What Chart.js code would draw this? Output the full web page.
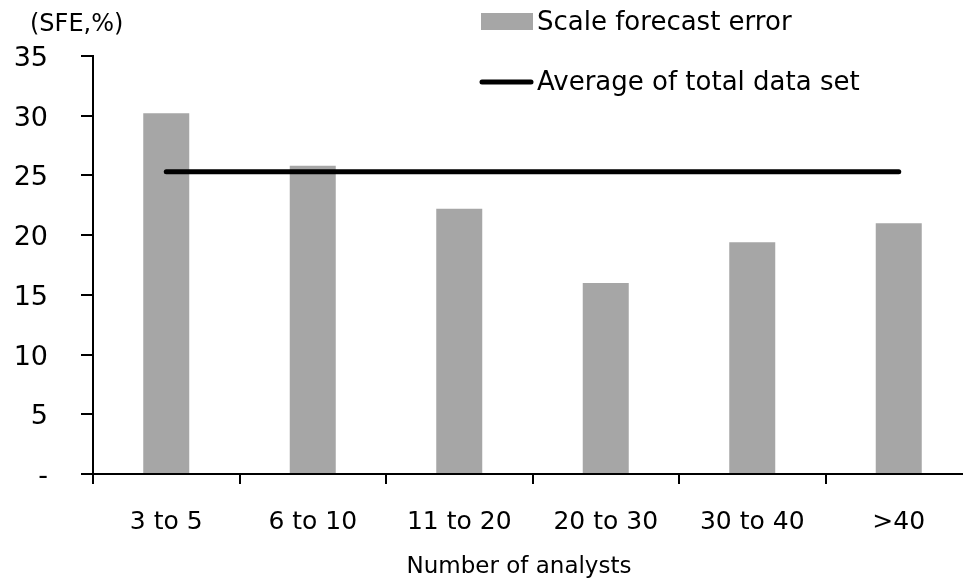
<!DOCTYPE html>
<html>
<head>
<meta charset="utf-8">
<script src="https://cdn.jsdelivr.net/npm/chart.js@4"></script>
<style>
  html, body { margin: 0; padding: 0; background: #fff; overflow: hidden; }
  #wrap { width: 963px; height: 582px; overflow: hidden; position: relative; }
  canvas { display: block; }
</style>
</head>
<body>
<div id="wrap"><canvas id="chart" width="975" height="582"></canvas></div>
<script>
// Scale forecast error by analyst coverage
const categories = ['3 to 5', '6 to 10', '11 to 20', '20 to 30', '30 to 40', '>40'];
const sfeValues = [30.2, 25.8, 22.2, 16.0, 19.4, 21.0];
const totalAverage = [25.3, 25.3, 25.3, 25.3, 25.3, 25.3];
const yTickValues = [0, 5, 10, 15, 20, 25, 30, 35];
const yTickLabels = ['-', '5', '10', '15', '20', '25', '30', '35'];

const unitLabel = '(SFE,%)';
const xTitle = 'Number of analysts';
const barLabel = 'Scale forecast error';
const lineLabel = 'Average of total data set';

const FONT = '"DejaVu Sans", sans-serif';
const BAR_COLOR = '#A6A6A6';

// Unit caption, x-axis caption and the two-row legend
const annotations = {
  id: 'annotations',
  afterDraw(chart) {
    const ctx = chart.ctx;
    ctx.save();
    ctx.fillStyle = '#000';
    ctx.textBaseline = 'middle';
    ctx.textAlign = 'left';
    ctx.font = '24px ' + FONT;
    ctx.fillText(unitLabel, 30, 25);

    ctx.textAlign = 'center';
    ctx.font = '23px ' + FONT;
    ctx.fillText(xTitle, 519, 567);

    const barDs = chart.data.datasets[1];
    const lineDs = chart.data.datasets[0];
    ctx.fillStyle = barDs.backgroundColor;
    ctx.fillRect(481, 13, 52, 17);
    ctx.strokeStyle = lineDs.borderColor;
    ctx.lineWidth = lineDs.borderWidth;
    ctx.lineCap = 'round';
    ctx.beginPath();
    ctx.moveTo(482, 82);
    ctx.lineTo(531, 82);
    ctx.stroke();

    ctx.fillStyle = '#000';
    ctx.textAlign = 'left';
    ctx.font = '26px ' + FONT;
    ctx.fillText(barDs.label, 537, 23);
    ctx.fillText(lineDs.label, 537, 83);
    ctx.restore();
  }
};

new Chart(document.getElementById('chart'), {
  data: {
    labels: categories,
    datasets: [
      {
        type: 'line',
        label: lineLabel,
        data: totalAverage,
        borderColor: '#000',
        borderWidth: 5,
        borderCapStyle: 'round',
        pointRadius: 0,
        tension: 0,
        order: 0
      },
      {
        type: 'bar',
        label: barLabel,
        data: sfeValues,
        backgroundColor: BAR_COLOR,
        barPercentage: 0.314,
        categoryPercentage: 1,
        order: 1
      }
    ]
  },
  options: {
    responsive: false,
    animation: false,
    devicePixelRatio: 1,
    layout: { padding: { top: 56, right: 3, bottom: 0, left: 0 } },
    plugins: { legend: { display: false }, tooltip: { enabled: false } },
    scales: {
      x: {
        type: 'category',
        offset: true,
        grid: { offset: true, drawOnChartArea: false, drawTicks: true, tickLength: 10, color: '#000', lineWidth: 2 },
        border: { color: '#000', width: 2 },
        ticks: { color: '#000', font: { family: FONT, size: 25 }, padding: 23, maxRotation: 0 },
        afterFit(scale) { scale.height = 108; }
      },
      y: {
        min: 0,
        max: 35,
        grid: { drawOnChartArea: false, drawTicks: true, tickLength: 12, color: '#000', lineWidth: 2 },
        border: { color: '#000', width: 2 },
        afterBuildTicks(scale) { scale.ticks = yTickValues.map(v => ({ value: v })); },
        ticks: {
          color: '#000',
          font: { family: FONT, size: 27 },
          padding: 33,
          labelOffset: 3,
          callback(value) { return yTickLabels[yTickValues.indexOf(value)]; }
        },
        afterFit(scale) { scale.width = 93; }
      }
    }
  },
  plugins: [annotations]
});
</script>
</body>
</html>
